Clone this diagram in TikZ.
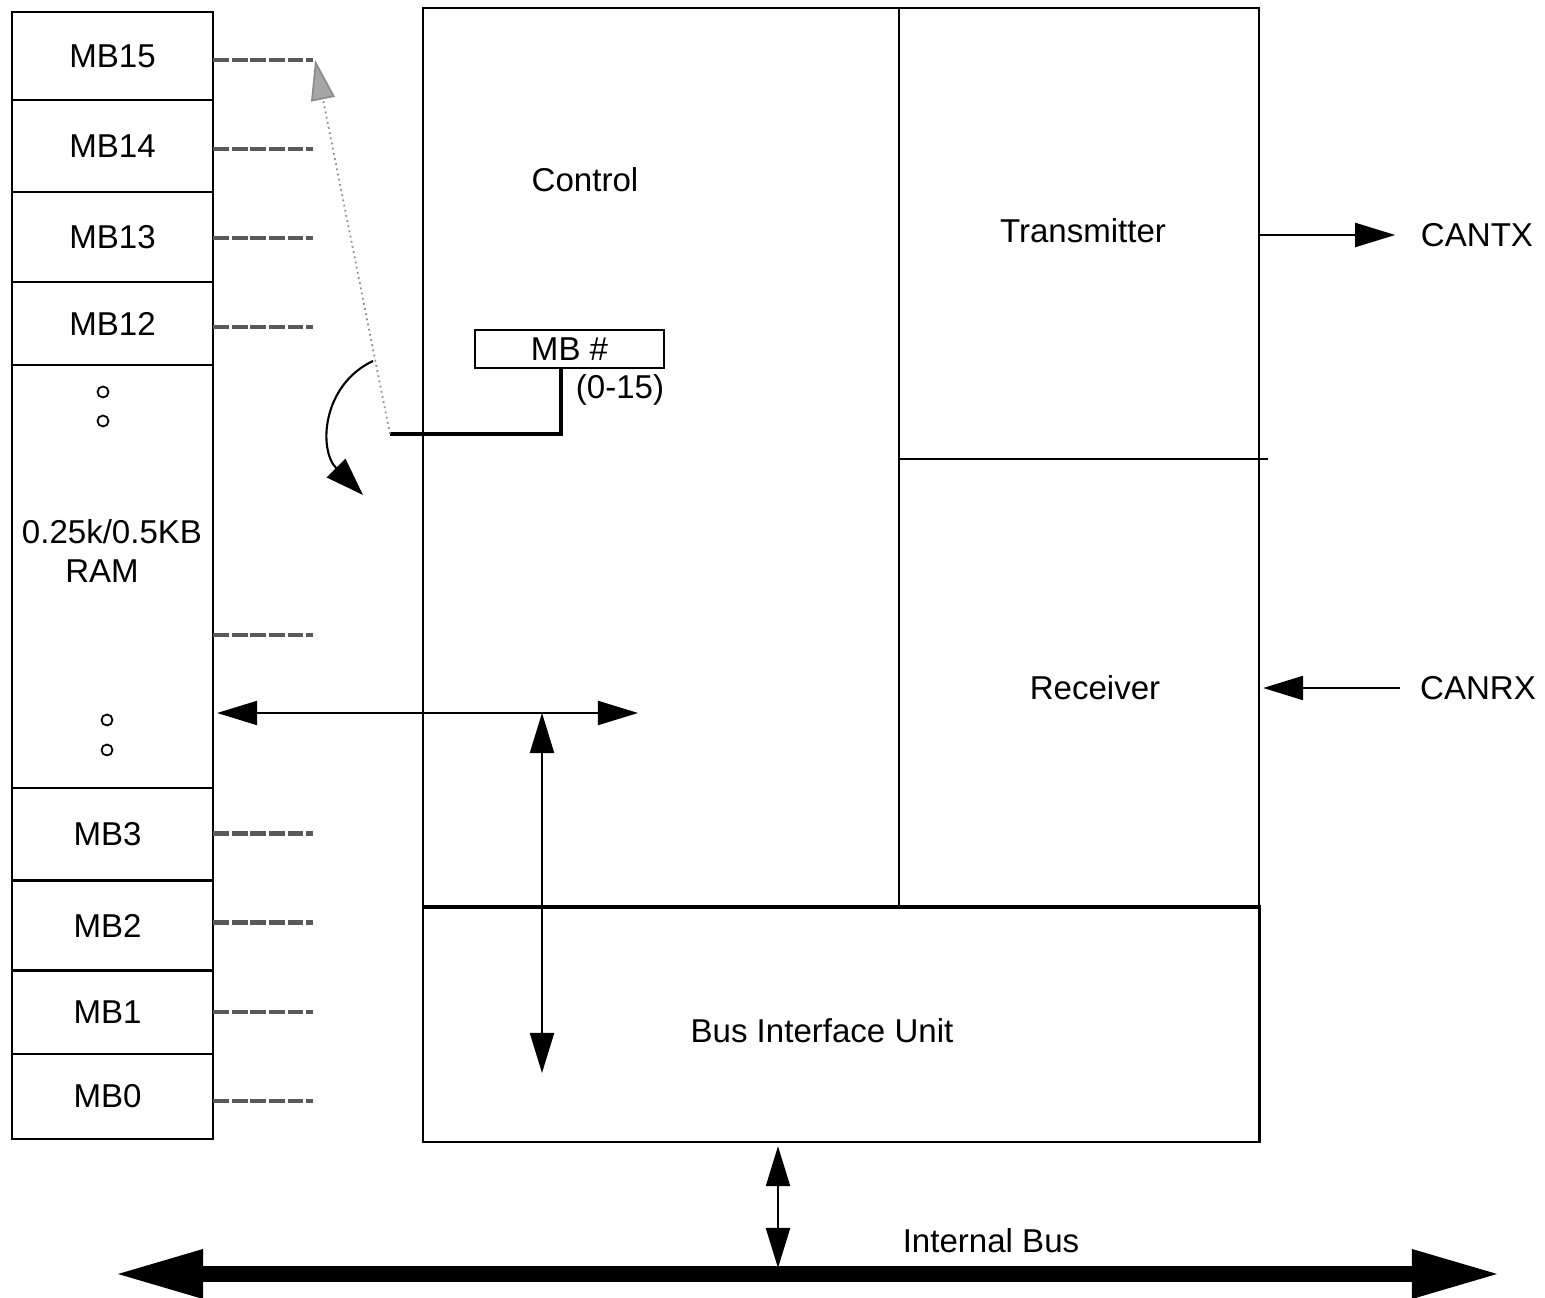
\documentclass[tikz,border=0pt]{standalone}
\usepackage{fontspec}
\setmainfont{Liberation Sans}
\usetikzlibrary{arrows.meta, positioning}

\begin{document}
\begin{tikzpicture}[
    x=0.01cm, y=-0.01cm,
    font=\fontsize{9.4}{11}\selectfont,
    line width=0.6pt,
    cell/.style={rectangle, draw, minimum width=2.01cm, inner sep=0pt, outer sep=0pt},
    block/.style={rectangle, draw, anchor=north west, inner sep=0pt, outer sep=0pt},
    memline/.style={line width=1.2pt, draw=black!65, dash pattern=on 4.5pt off 0.8pt},
    tipped/.style={-{Triangle[length=0.4cm, width=0.24cm]}},
    both/.style={{Triangle[length=0.4cm, width=0.24cm]}-{Triangle[length=0.4cm, width=0.24cm]}},
    dots/.style={circle, draw, inner sep=0pt, minimum size=0.11cm, line width=0.5pt}
]
    \useasboundingbox (0,0) rectangle (1545,1298);

    % Message buffer RAM
    \node[cell, minimum height=0.88cm, anchor=north west] (mb15) at (12,12) {MB15};
    \node[cell, minimum height=0.92cm, below=0pt of mb15] (mb14) {MB14};
    \node[cell, minimum height=0.90cm, below=0pt of mb14] (mb13) {MB13};
    \node[cell, minimum height=0.83cm, below=0pt of mb13] (mb12) {MB12};
    \node[cell, minimum height=4.23cm, below=0pt of mb12] (ram) {};
    \node[cell, minimum height=0.92cm, below=0pt of ram] (mb3) {\hspace*{-0.1cm}MB3};
    \node[cell, minimum height=0.90cm, below=0pt of mb3] (mb2) {\hspace*{-0.1cm}MB2};
    \node[cell, minimum height=0.83cm, below=0pt of mb2] (mb1) {\hspace*{-0.1cm}MB1};
    \node[cell, minimum height=0.85cm, below=0pt of mb1] (mb0) {\hspace*{-0.1cm}MB0};
    \node[align=center, inner sep=0pt] (ramlabel) at (112,551) {0.25k/0.5KB\\\hspace*{-0.2cm}RAM};
    \node[dots] (dot1) at (103,392) {};
    \node[dots] (dot2) at (103,421) {};
    \node[dots] (dot3) at (107,720) {};
    \node[dots] (dot4) at (107,750) {};

    \foreach \c/\dy in {mb15/-4, mb14/-3, mb13/-1, mb12/-3.5, ram/-58.5, mb3/1, mb2/3, mb1/0, mb0/-4.5}
        \draw[memline] ([yshift=\dy*0.01cm]\c.east) -- ++(100,0) coordinate (\c-tap);

    % CAN module
    \node[block, minimum width=4.76cm, minimum height=8.99cm] (control) at (423,8) {};
    \node[block, minimum width=3.60cm, minimum height=4.51cm] (tx) at (899,8) {};
    \node[block, minimum width=3.60cm, minimum height=4.48cm, below=0pt of tx] (rx) {};
    \node[block, minimum width=8.36cm, minimum height=2.35cm] (biu) at (423,907) {};
    \node (ctrlname) at (585,180) {Control};
    \node (txname) at (1083,231) {Transmitter};
    \node (rxname) at (1095,688) {Receiver};
    \node (biuname) at (822,1031) {Bus Interface Unit};
    \draw[line width=1.4pt] (biu.north west) -- ([xshift=0.02cm]biu.north east);
    \draw (tx.south east) -- ++(9,0);

    % Buffer select
    \node[block, minimum width=1.89cm, minimum height=0.38cm] (mbsel) at (475,330) {MB \#};
    \node (range) at (620,390) {(0-15)};
    \coordinate (pivot) at (390,434);
    \draw[line width=1.1pt] ([xshift=-0.085cm]mbsel.south) |- (pivot);
    \draw[draw=black!45, densely dotted, line width=0.5pt,
          -{Triangle[length=0.4cm, width=0.24cm, fill=black!35]}] (pivot) -- ([xshift=0.02cm]mb15-tap);
    \coordinate (swing) at (373,361);
    \coordinate (swingend) at (363,495);
    \draw[-{Triangle[length=0.38cm, width=0.26cm]}] (swing) .. controls (322,385) and (318,450) .. (swingend);

    % Data paths
    \coordinate (hub) at (542,713);
    \coordinate (ctrlin) at (638,713);
    \coordinate (biuin) at (542,1073);
    \draw[both] ([xshift=0.04cm]ram.east |- hub) -- (ctrlin);
    \draw[both] (hub) -- (biuin);

    % CAN pins
    \node (cantx) at (1477,235) {CANTX};
    \node (canrx) at (1478,688) {CANRX};
    \draw[tipped, shorten >=0.13cm] (tx.east |- cantx) -- (cantx.west);
    \draw[tipped, shorten <=0.07cm] (canrx.west) -- ([xshift=0.04cm]rx.east |- canrx);

    % Internal bus
    \coordinate (busL) at (118,1274);
    \coordinate (busR) at (1497,1274);
    \coordinate (bustap) at (778,1268);
    \draw[line width=4.8pt, {Triangle[length=0.85cm, width=0.5cm, line width=0pt]}-{Triangle[length=0.85cm, width=0.5cm, line width=0pt]}] (busL) -- (busR);
    \draw[both] ([yshift=-0.04cm]biu.south -| bustap) -- (bustap);
    \node (busname) at (991,1241) {Internal Bus};
\end{tikzpicture}
\end{document}
